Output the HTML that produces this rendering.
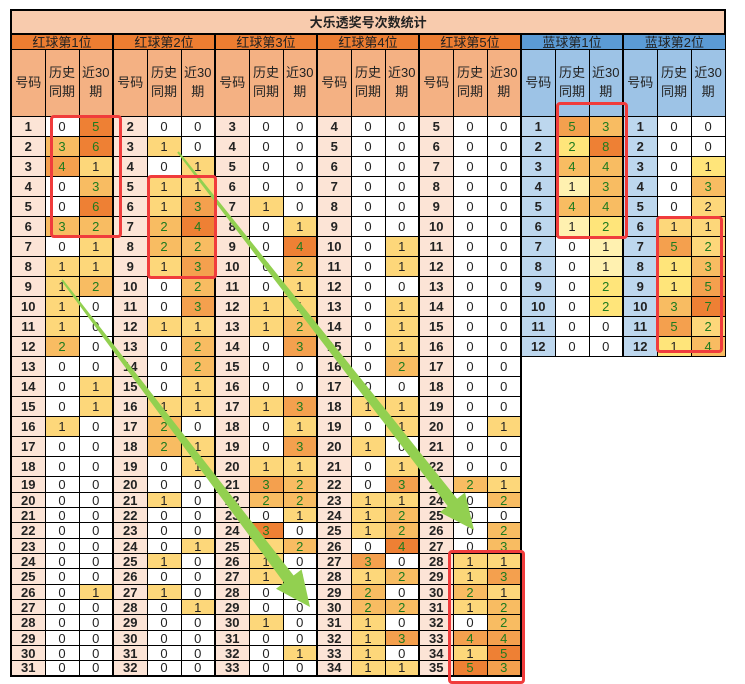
<!DOCTYPE html>
<html><head><meta charset="utf-8">
<style>
body{margin:0;background:#fff;width:745px;height:684px;overflow:hidden;position:relative;font-family:"Liberation Sans","Noto Sans CJK SC",sans-serif;}
table{position:absolute;left:10px;top:9px;border-collapse:collapse;table-layout:fixed;width:714px;}
td{border:1px solid #000;padding:0;text-align:center;font-size:13px;color:#222;overflow:hidden;white-space:nowrap;line-height:1;}
tr.d td:nth-child(3n+1){border-left:2px solid #000;font-weight:bold;background:#fce4d6;}
tr.d td:nth-child(16),tr.d td:nth-child(19){background:#bdd7ee;}
tr.d td:nth-child(15){border-right:2px solid #000;}
tr.last td{border-bottom:2px solid #000;}
.t td{background:#f8cbad;font-weight:bold;height:22px;border:2px solid #000;}
.g td{background:#ed7d31;height:14px;border-left:2px solid #000;}
.g td.bl{background:#5b9bd5;}
.s td{background:#f4b183;height:66px;line-height:1.45;}
.s td:nth-child(3n+1){border-left:2px solid #000;}
.s td.bl{background:#9dc3e6;}
tr.d{height:20px;} tr.e{height:15px;} tr.f{height:16px;}
td.a{background:#fdd77a;}
td.b{background:#f8bc62;color:#1e7b1e;}
td.c{background:#f4a04e;color:#1e7b1e;}
td.x{background:#ee8034;color:#1e7b1e;}
td.p{background:#fff1b0;}
td.q{background:#ffe57a;}
.box{position:absolute;border:3px solid #f03c3c;border-radius:4px;box-sizing:border-box;}
svg{position:absolute;left:0;top:0;}
</style></head><body>
<table>
<colgroup><col span="21" style="width:34px"></colgroup>
<tr class="t"><td colspan="21">大乐透奖号次数统计</td></tr>
<tr class="g"><td colspan="3">红球第1位</td><td colspan="3">红球第2位</td><td colspan="3">红球第3位</td><td colspan="3">红球第4位</td><td colspan="3">红球第5位</td><td colspan="3" class="bl">蓝球第1位</td><td colspan="3" class="bl">蓝球第2位</td></tr>
<tr class="s"><td>号码</td><td>历史<br>同期</td><td>近30<br>期</td><td>号码</td><td>历史<br>同期</td><td>近30<br>期</td><td>号码</td><td>历史<br>同期</td><td>近30<br>期</td><td>号码</td><td>历史<br>同期</td><td>近30<br>期</td><td>号码</td><td>历史<br>同期</td><td>近30<br>期</td><td class="bl">号码</td><td class="bl">历史<br>同期</td><td class="bl">近30<br>期</td><td class="bl">号码</td><td class="bl">历史<br>同期</td><td class="bl">近30<br>期</td></tr>
<tr class="d"><td>1</td><td>0</td><td class="x">5</td><td>2</td><td>0</td><td>0</td><td>3</td><td>0</td><td>0</td><td>4</td><td>0</td><td>0</td><td>5</td><td>0</td><td>0</td><td>1</td><td class="c">5</td><td class="b">3</td><td>1</td><td>0</td><td>0</td></tr>
<tr class="d"><td>2</td><td class="b">3</td><td class="x">6</td><td>3</td><td class="a">1</td><td>0</td><td>4</td><td>0</td><td>0</td><td>5</td><td>0</td><td>0</td><td>6</td><td>0</td><td>0</td><td>2</td><td class="q" style="color:#1e7b1e">2</td><td class="x">8</td><td>2</td><td>0</td><td>0</td></tr>
<tr class="d"><td>3</td><td class="c">4</td><td class="a">1</td><td>4</td><td>0</td><td class="a">1</td><td>5</td><td>0</td><td>0</td><td>6</td><td>0</td><td>0</td><td>7</td><td>0</td><td>0</td><td>3</td><td class="b">4</td><td class="b">4</td><td>3</td><td>0</td><td class="q">1</td></tr>
<tr class="d"><td>4</td><td>0</td><td class="b">3</td><td>5</td><td class="a">1</td><td class="a">1</td><td>6</td><td>0</td><td>0</td><td>7</td><td>0</td><td>0</td><td>8</td><td>0</td><td>0</td><td>4</td><td class="p">1</td><td class="b">3</td><td>4</td><td>0</td><td class="b">3</td></tr>
<tr class="d"><td>5</td><td>0</td><td class="x">6</td><td>6</td><td class="a">1</td><td class="c">3</td><td>7</td><td class="a">1</td><td>0</td><td>8</td><td>0</td><td>0</td><td>9</td><td>0</td><td>0</td><td>5</td><td class="b">4</td><td class="b">4</td><td>5</td><td>0</td><td class="a">2</td></tr>
<tr class="d"><td>6</td><td class="b">3</td><td class="b">2</td><td>7</td><td class="b">2</td><td class="x">4</td><td>8</td><td>0</td><td class="a">1</td><td>9</td><td>0</td><td>0</td><td>10</td><td>0</td><td>0</td><td>6</td><td class="p">1</td><td class="q" style="color:#1e7b1e">2</td><td>6</td><td class="a">1</td><td class="a">1</td></tr>
<tr class="d"><td>7</td><td>0</td><td class="a">1</td><td>8</td><td class="b">2</td><td class="b">2</td><td>9</td><td>0</td><td class="x">4</td><td>10</td><td>0</td><td class="a">1</td><td>11</td><td>0</td><td>0</td><td>7</td><td>0</td><td class="p">1</td><td>7</td><td class="c">5</td><td class="a" style="color:#1e7b1e">2</td></tr>
<tr class="d"><td>8</td><td class="a">1</td><td class="a">1</td><td>9</td><td class="a">1</td><td class="c">3</td><td>10</td><td>0</td><td class="b">2</td><td>11</td><td>0</td><td class="a">1</td><td>12</td><td>0</td><td>0</td><td>8</td><td>0</td><td class="p">1</td><td>8</td><td class="q">1</td><td class="b">3</td></tr>
<tr class="d"><td>9</td><td class="a">1</td><td class="b">2</td><td>10</td><td>0</td><td class="b">2</td><td>11</td><td>0</td><td class="a">1</td><td>12</td><td>0</td><td>0</td><td>13</td><td>0</td><td>0</td><td>9</td><td>0</td><td class="q" style="color:#1e7b1e">2</td><td>9</td><td class="q">1</td><td class="c">5</td></tr>
<tr class="d"><td>10</td><td class="a">1</td><td>0</td><td>11</td><td>0</td><td class="c">3</td><td>12</td><td class="a">1</td><td class="a">1</td><td>13</td><td>0</td><td class="a">1</td><td>14</td><td>0</td><td>0</td><td>10</td><td>0</td><td class="q" style="color:#1e7b1e">2</td><td>10</td><td class="b">3</td><td class="x">7</td></tr>
<tr class="d"><td>11</td><td class="a">1</td><td>0</td><td>12</td><td class="a">1</td><td class="a">1</td><td>13</td><td class="a">1</td><td class="b">2</td><td>14</td><td>0</td><td class="a">1</td><td>15</td><td>0</td><td>0</td><td>11</td><td>0</td><td>0</td><td>11</td><td class="c">5</td><td class="a" style="color:#1e7b1e">2</td></tr>
<tr class="d"><td>12</td><td class="b">2</td><td>0</td><td>13</td><td>0</td><td class="b">2</td><td>14</td><td>0</td><td class="c">3</td><td>15</td><td>0</td><td class="a">1</td><td>16</td><td>0</td><td>0</td><td>12</td><td>0</td><td>0</td><td>12</td><td class="q">1</td><td class="b">4</td></tr>
<tr class="d"><td>13</td><td>0</td><td>0</td><td>14</td><td>0</td><td class="b">2</td><td>15</td><td>0</td><td>0</td><td>16</td><td>0</td><td class="b">2</td><td>17</td><td>0</td><td>0</td></tr>
<tr class="d"><td>14</td><td>0</td><td class="a">1</td><td>15</td><td>0</td><td class="a">1</td><td>16</td><td>0</td><td>0</td><td>17</td><td>0</td><td>0</td><td>18</td><td>0</td><td>0</td></tr>
<tr class="d"><td>15</td><td>0</td><td class="a">1</td><td>16</td><td class="a">1</td><td class="a">1</td><td>17</td><td class="a">1</td><td class="c">3</td><td>18</td><td class="a">1</td><td class="a">1</td><td>19</td><td>0</td><td>0</td></tr>
<tr class="d"><td>16</td><td class="a">1</td><td>0</td><td>17</td><td class="b">2</td><td>0</td><td>18</td><td>0</td><td class="a">1</td><td>19</td><td>0</td><td class="a">1</td><td>20</td><td>0</td><td class="a">1</td></tr>
<tr class="d"><td>17</td><td>0</td><td>0</td><td>18</td><td class="b">2</td><td class="a">1</td><td>19</td><td>0</td><td class="c">3</td><td>20</td><td class="a">1</td><td>0</td><td>21</td><td>0</td><td>0</td></tr>
<tr class="d"><td>18</td><td>0</td><td>0</td><td>19</td><td>0</td><td class="a">1</td><td>20</td><td class="a">1</td><td class="a">1</td><td>21</td><td>0</td><td class="a">1</td><td>22</td><td>0</td><td>0</td></tr>
<tr class="d f"><td>19</td><td>0</td><td>0</td><td>20</td><td>0</td><td>0</td><td>21</td><td class="c">3</td><td class="b">2</td><td>22</td><td>0</td><td class="c">3</td><td>23</td><td class="b">2</td><td class="a">1</td></tr>
<tr class="d e"><td>20</td><td>0</td><td>0</td><td>21</td><td class="a">1</td><td>0</td><td>22</td><td class="b">2</td><td class="b">2</td><td>23</td><td class="a">1</td><td class="a">1</td><td>24</td><td>0</td><td class="b">2</td></tr>
<tr class="d e"><td>21</td><td>0</td><td>0</td><td>22</td><td>0</td><td>0</td><td>23</td><td>0</td><td class="a">1</td><td>24</td><td class="a">1</td><td class="b">2</td><td>25</td><td>0</td><td>0</td></tr>
<tr class="d f"><td>22</td><td>0</td><td>0</td><td>23</td><td>0</td><td>0</td><td>24</td><td class="x">3</td><td>0</td><td>25</td><td class="a">1</td><td class="b">2</td><td>26</td><td>0</td><td class="b">2</td></tr>
<tr class="d e"><td>23</td><td>0</td><td>0</td><td>24</td><td>0</td><td class="a">1</td><td>25</td><td class="a">1</td><td class="b">2</td><td>26</td><td>0</td><td class="x">4</td><td>27</td><td>0</td><td class="b">3</td></tr>
<tr class="d e"><td>24</td><td>0</td><td>0</td><td>25</td><td class="a">1</td><td>0</td><td>26</td><td class="a">1</td><td>0</td><td>27</td><td class="c">3</td><td>0</td><td>28</td><td class="a">1</td><td class="a">1</td></tr>
<tr class="d f"><td>25</td><td>0</td><td>0</td><td>26</td><td>0</td><td>0</td><td>27</td><td class="a">1</td><td>0</td><td>28</td><td class="a">1</td><td class="b">2</td><td>29</td><td class="a">1</td><td class="c">3</td></tr>
<tr class="d e"><td>26</td><td>0</td><td class="a">1</td><td>27</td><td class="a">1</td><td>0</td><td>28</td><td>0</td><td>0</td><td>29</td><td class="b">2</td><td>0</td><td>30</td><td class="b">2</td><td class="a">1</td></tr>
<tr class="d e"><td>27</td><td>0</td><td>0</td><td>28</td><td>0</td><td class="a">1</td><td>29</td><td>0</td><td>0</td><td>30</td><td class="b">2</td><td class="b">2</td><td>31</td><td class="a">1</td><td class="b">2</td></tr>
<tr class="d f"><td>28</td><td>0</td><td>0</td><td>29</td><td>0</td><td>0</td><td>30</td><td class="a">1</td><td>0</td><td>31</td><td class="a">1</td><td>0</td><td>32</td><td>0</td><td class="b">2</td></tr>
<tr class="d e"><td>29</td><td>0</td><td>0</td><td>30</td><td>0</td><td>0</td><td>31</td><td>0</td><td>0</td><td>32</td><td class="a">1</td><td class="c">3</td><td>33</td><td class="c">4</td><td class="c">4</td></tr>
<tr class="d e"><td>30</td><td>0</td><td>0</td><td>31</td><td>0</td><td>0</td><td>32</td><td>0</td><td class="a">1</td><td>33</td><td class="a">1</td><td>0</td><td>34</td><td class="a">1</td><td class="x">5</td></tr>
<tr class="d e last"><td>31</td><td>0</td><td>0</td><td>32</td><td>0</td><td>0</td><td>33</td><td>0</td><td>0</td><td>34</td><td class="a">1</td><td class="a">1</td><td>35</td><td class="x">5</td><td class="c">3</td></tr>
</table>
<svg width="745" height="684" viewBox="0 0 745 684">
<polygon fill="#92d050" points="61.2,280.6 284,582.7 276,588.8 310,607 301.6,569.4 293.6,575.5 62.8,279.4"/>
<polygon fill="#92d050" points="177.2,152.6 447.7,506.1 439.8,512.3 474,530 465,492.5 457.1,498.7 178.8,151.4"/>
</svg>
<div class="box" style="left:50px;top:115px;width:72px;height:123px"></div>
<div class="box" style="left:147px;top:175px;width:70px;height:104px"></div>
<div class="box" style="left:556px;top:102px;width:72px;height:137px"></div>
<div class="box" style="left:656px;top:216px;width:67px;height:137px"></div>
<div class="box" style="left:448px;top:550px;width:77px;height:134px"></div>
</body></html>
